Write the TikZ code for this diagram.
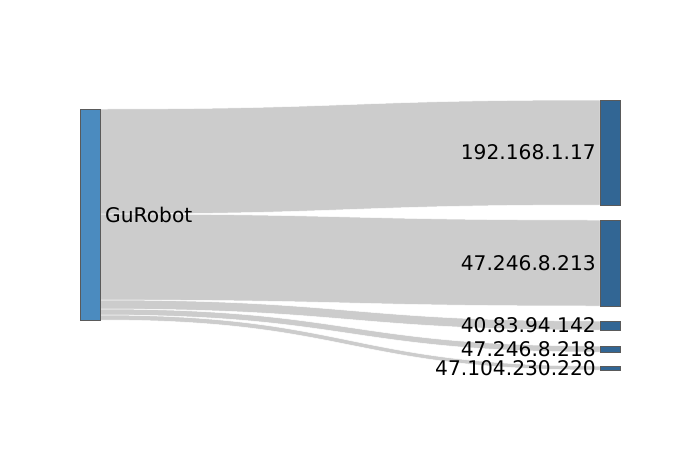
\documentclass[tikz,border=0pt]{standalone}
\usepackage{fontspec}
\setmainfont{DejaVu Sans}
\usetikzlibrary{positioning, backgrounds}
\definecolor{linkgray}{RGB}{204,204,204}
\definecolor{srcblue}{RGB}{75,139,191}
\definecolor{dstblue}{RGB}{50,102,148}
\definecolor{edgegray}{RGB}{90,90,90}

\begin{document}
\begin{tikzpicture}[x=1pt, y=-1pt, font=\fontsize{20.2}{23}\selectfont,
    box/.style={draw=edgegray, line width=0.7pt, rectangle, minimum width=20pt, inner sep=0pt, outer sep=0pt, anchor=north west},
    tag/.style={inner sep=0pt},
    flow/.style={fill=linkgray, draw=white, line width=0.5pt}]
    \useasboundingbox (0,0) rectangle (700,450);

    % Draw the source block
    \node[box, fill=srcblue, minimum height=211pt] (src) at (80,109) {};
    \node[tag, right=5pt of src] (srclab) {GuRobot};

    % Draw the target blocks
    \node[box, fill=dstblue, minimum height=105pt] (ip1) at (600,100) {};
    \node[box, fill=dstblue, minimum height=86pt] (ip2) at (600,220) {};
    \node[box, fill=dstblue, minimum height=9pt] (ip3) at (600,321) {};
    \node[box, fill=dstblue, minimum height=6pt] (ip4) at (600,346) {};
    \node[box, fill=dstblue, minimum height=4pt] (ip5) at (600,366) {};

    \node[tag, left=4pt of ip1] (lab1) {192.168.1.17};
    \node[tag, left=4pt of ip2] (lab2) {47.246.8.213};
    \node[tag, left=4pt of ip3] (lab3) {40.83.94.142};
    \node[tag, left=4pt of ip4] (lab4) {47.246.8.218};
    \node[tag, left=4pt of ip5] (lab5) {47.104.230.220};

    % Split points on the source
    \coordinate (s1) at (100,214);
    \coordinate (s2) at (100,300);
    \coordinate (s3) at (100,309);
    \coordinate (s4) at (100,315);

    % Draw the flows
    \begin{scope}[on background layer]
    \draw[flow] (src.north east) .. controls +(250,0) and +(-250,0) .. (ip1.north west)
        -- (ip1.south west) .. controls +(-250,0) and +(250,0) .. (s1) -- cycle;
    \draw[flow] (s1) .. controls +(250,0) and +(-250,0) .. (ip2.north west)
        -- (ip2.south west) .. controls +(-250,0) and +(250,0) .. (s2) -- cycle;
    \draw[flow] (s2) .. controls +(250,0) and +(-250,0) .. (ip3.north west)
        -- (ip3.south west) .. controls +(-250,0) and +(250,0) .. (s3) -- cycle;
    \draw[flow] (s3) .. controls +(250,0) and +(-250,0) .. (ip4.north west)
        -- (ip4.south west) .. controls +(-250,0) and +(250,0) .. (s4) -- cycle;
    \draw[flow] (s4) .. controls +(250,0) and +(-250,0) .. (ip5.north west)
        -- (ip5.south west) .. controls +(-250,0) and +(250,0) .. (src.south east) -- cycle;
    \end{scope}
\end{tikzpicture}
\end{document}
